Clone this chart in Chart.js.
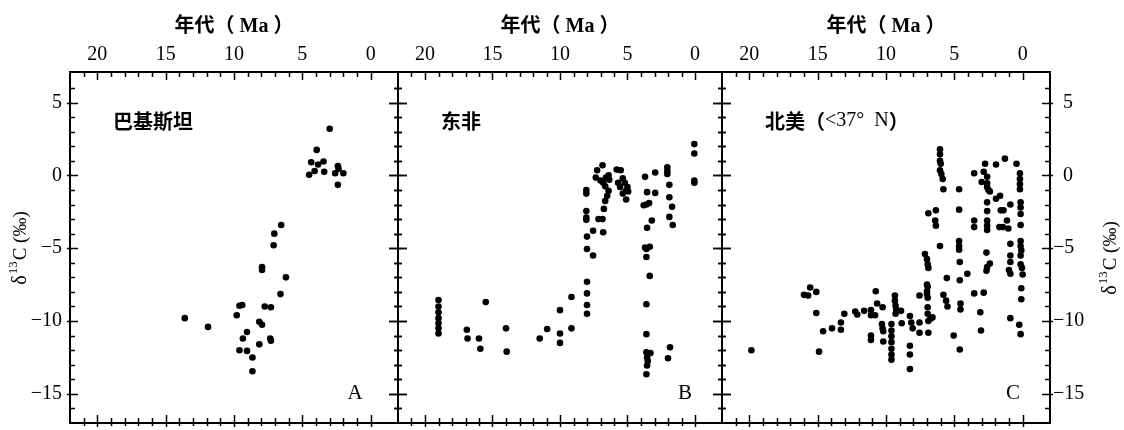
<!DOCTYPE html>
<html>
<head>
<meta charset="utf-8">
<script src="https://cdn.jsdelivr.net/npm/chart.js@4.4.1/dist/chart.umd.min.js"></script>
<style>
  html, body { margin: 0; padding: 0; background: #fff; }
  #wrap { position: relative; width: 1124px; height: 430px; overflow: hidden; }
  canvas { position: absolute; top: 0; }
</style>
</head>
<body>
<div id="wrap">
  <canvas id="pA" width="412" height="430" style="left:0px"></canvas>
  <canvas id="pB" width="348" height="430" style="left:386px"></canvas>
  <canvas id="pC" width="414" height="430" style="left:710px"></canvas>
</div>
<script>
// ---- data (age in Ma, d13C in permil) ----
const xTitle = "年代（ Ma ）";
const xTicks = [20, 15, 10, 5, 0];
const yTicks = [5, 0, -5, -10, -15];
const panelNames = ["巴基斯坦", "东非", "北美（<37°  N）"];
const panelLetters = ["A", "B", "C"];

// A: Pakistan
const ageA = [13.6, 11.9, 9.8, 9.6, 9.4, 9.35, 9.6, 9.05, 9.05, 8.65, 8.65, 8.15, 7.95, 8.15, 7.95, 7.95, 7.75, 7.3, 7.35, 7.3,
  7.1, 7.05, 6.55, 6.6, 6.2, 4.5, 4.35, 4.1, 3.95, 3.85, 3.45, 3.4, 3.0, 2.6, 2.4, 2.4, 2.35, 2.0];
const d13cA = [-9.8, -10.4, -9.6, -8.95, -8.9, -11.2, -12.0, -12.05, -10.75, -12.5, -13.45, -10.05, -10.25, -11.6, -6.3, -6.5, -9.0, -9.05, -11.2, -11.35,
  -4.8, -4.0, -3.4, -8.15, -7.0, 0.05, 0.9, 0.3, 1.75, 0.75, 0.95, 0.25, 3.2, 0.15, 0.65, -0.65, 0.45, 0.15];

// B: East Africa
const ageB = [19.0, 19.0, 19.0, 19.0, 19.0, 19.0, 19.0,
  16.9, 16.85, 16.0, 15.9, 15.5, 14.0, 13.95,
  11.5, 10.95, 10.0, 10.0, 10.0, 9.15, 9.15,
  8.0, 8.0, 8.0, 8.0,
  8.05, 8.05, 8.05, 8.05, 8.05, 8.0, 8.0,
  7.55, 7.55,
  7.25, 6.85, 7.35, 7.0, 6.8, 6.6, 6.4, 6.35, 6.65, 6.4, 6.5, 6.65, 6.75, 6.85, 7.15, 6.8,
  5.8, 5.5, 5.35, 5.7, 5.2, 5.0, 5.55, 5.1, 5.35, 4.95, 5.1,
  3.7, 2.95, 3.55, 2.95, 3.8, 3.4, 3.6, 3.55, 3.2, 3.7, 3.35, 3.6, 3.6, 3.35, 3.6, 3.6, 3.6, 3.3, 3.55, 3.5, 3.55, 3.6,
  2.05, 2.05, 2.05, 1.9, 1.9, 1.7, 1.9, 1.65, 1.85, 2.0,
  0.05, 0.05, 0.05, 0.05];
const d13cB = [-8.55, -9.0, -9.4, -9.8, -10.15, -10.5, -10.85,
  -10.6, -11.2, -11.2, -11.9, -8.7, -10.5, -12.1,
  -11.2, -10.55, -9.25, -10.85, -11.5, -8.35, -10.5,
  -7.3, -8.1, -8.9, -9.5,
  -1.0, -1.25, -2.45, -2.9, -3.05, -4.2, -5.05,
  -3.8, -5.5,
  0.35, 0.7, -0.15, -0.35, -0.5, -0.15, 0.0, -0.3, -0.75, -1.05, -1.4, -1.75, -2.3, -3.0, -3.0, -3.9,
  0.4, 0.35, -0.2, -0.5, -0.5, -0.8, -0.8, -1.05, -1.25, -1.1, -1.65,
  -0.1, 0.2, -1.15, -1.2, -2.05, -1.9, -2.0, -3.6, -3.1, -4.95, -4.9, -5.05, -5.6, -6.9, -8.85, -10.9, -12.15, -12.2, -12.5, -12.75, -13.05, -13.65,
  0.55, 0.3, 0.1, -0.65, -1.5, -2.15, -2.85, -3.4, -11.8, -12.55,
  2.15, 1.5, -0.35, -0.5];

// C: North America (<37 N)
const ageC = [19.85,
  15.55, 15.1, 16.0, 15.7, 15.1, 14.9, 14.6, 13.95, 13.3, 13.3, 13.05, 12.25, 12.1, 11.6,
  10.75, 11.1, 11.1, 10.8, 10.65, 10.25, 11.1, 11.1, 10.2, 10.3, 10.25, 10.2,
  9.35, 9.35, 9.3, 9.25, 9.3,
  9.6, 9.6, 9.6, 9.6, 9.6, 9.6, 9.6,
  8.9, 8.85,
  8.25, 8.15, 8.05, 8.25, 8.25, 8.25,
  7.55, 7.55, 7.55, 6.9,
  7.15, 7.0, 6.95, 6.9,
  7.0, 6.95, 7.0, 7.0, 6.95,
  6.95, 6.95, 6.75, 6.9, 6.6,
  6.9, 6.35, 6.4, 6.35, 6.05,
  6.05, 6.05, 6.05, 6.0, 6.05, 5.95, 5.85, 5.8,
  5.55, 5.8, 5.6, 5.5,
  4.65, 4.65, 4.65, 4.65, 4.65, 4.6, 4.05, 4.6, 4.55, 4.55, 5.05, 4.6,
  3.55, 3.55, 3.55, 3.55, 2.85, 3.1, 3.05,
  2.75, 2.85, 2.6, 3.0, 2.6, 2.6, 2.5, 2.4,
  1.95, 1.3,
  2.6, 2.6, 2.6, 2.6, 2.6, 2.65, 2.4, 2.6, 2.65,
  1.95, 1.65, 1.6, 1.4, 1.7, 1.45,
  0.9, 1.15, 1.05, 0.45,
  0.9, 0.9, 0.9, 1.0, 0.9,
  0.2, 0.2, 0.2, 0.2, 0.15, 0.15, 0.15, 0.15, 0.15, 0.15, 0.1, 0.15, 0.15, 0.05, 0.0, 0.1, 0.1,
  0.9, 0.25, 0.15];
const d13cC = [-12.0,
  -7.7, -8.0, -8.2, -8.25, -9.45, -12.1, -10.7, -10.5, -10.1, -10.6, -9.5, -9.35, -9.55, -9.3,
  -7.95, -9.25, -9.6, -9.6, -8.8, -9.05, -11.0, -11.3, -11.4, -10.2, -10.5, -10.7,
  -8.25, -8.6, -8.95, -9.2, -9.5,
  -10.2, -10.65, -11.05, -11.45, -11.9, -12.3, -12.65,
  -9.3, -10.15,
  -9.65, -10.1, -10.5, -11.7, -12.3, -13.3,
  -10.1, -10.8, -8.25, -10.8,
  -5.4, -5.75, -6.1, -6.35,
  -7.5, -7.65, -7.95, -8.15, -8.4,
  -9.05, -9.5, -9.85, -10.0, -9.75,
  -2.6, -2.4, -3.1, -3.45, -4.85,
  1.8, 1.45, 1.0, 0.8, 0.35, 0.1, -0.25, -0.95,
  -7.05, -8.2, -8.6, -9.0,
  -0.95, -2.35, -4.5, -4.85, -5.1, -5.95, -6.75, -7.2, -8.8, -9.2, -11.0, -11.95,
  0.15, -3.1, -3.55, -8.1, -8.05, -9.4, -10.65,
  0.8, 0.25, -0.1, -0.45, -0.55, -0.8, -1.0, -1.1,
  0.75, 1.15,
  -1.85, -2.45, -3.1, -3.45, -3.75, -5.3, -6.05, -6.3, -6.55,
  -1.6, -1.4, -2.4, -2.4, -3.55, -3.55,
  -2.0, -3.1, -3.65, 0.8,
  -4.7, -5.5, -5.95, -6.5, -6.75,
  0.15, -0.25, -0.6, -0.95, -1.85, -2.2, -2.65, -3.4, -4.5, -4.85, -5.15, -5.5, -6.1, -6.35, -6.8, -7.75, -8.5,
  -9.8, -10.25, -10.9];

const X_MIN = -2, X_MAX = 22;
const Y_MIN = -17, Y_MAX = 7.1;

const SERIF = "'Liberation Serif', 'Times New Roman', serif";
const CJK = "'Noto Sans CJK SC', sans-serif";

function fmt(v) { return v < 0 ? "\u2212" + (-v) : String(v); }

// mixed CJK (bold) / Latin (serif) text, left aligned at x
function drawMixed(ctx, text, x, y, size) {
  let cx = x;
  for (const ch of text) {
    ctx.font = ch.charCodeAt(0) > 0x2e80 ? `bold ${size}px ${CJK}` : `${size}px ${SERIF}`;
    ctx.fillText(ch, cx, y);
    cx += ctx.measureText(ch).width;
  }
}

// rotated "δ13C (‰)" with superscript
function drawYTitle(ctx, cx, cy) {
  const parts = [["δ", 20, 0], ["13", 13, -7], ["C (‰)", 19, 0]];
  ctx.save();
  ctx.translate(cx, cy);
  ctx.rotate(-Math.PI / 2);
  ctx.textBaseline = "middle";
  ctx.textAlign = "left";
  let w = 0;
  for (const [t, s] of parts) { ctx.font = `${s}px ${SERIF}`; w += ctx.measureText(t).width + 1; }
  let x = -w / 2;
  for (const [t, s, dy] of parts) {
    ctx.font = `${s}px ${SERIF}`;
    ctx.fillText(t, x, dy);
    x += ctx.measureText(t).width + 1;
  }
  ctx.restore();
}

// frame with inward / crossing ticks, panel name and letter
const frameTicks = {
  id: "frameTicks",
  afterDatasetsDraw(chart, args, o) {
    const { ctx, chartArea: a, scales: { x, y } } = chart;
    ctx.save();
    ctx.strokeStyle = "#000";
    ctx.fillStyle = "#000";
    ctx.lineWidth = 2;
    ctx.strokeRect(a.left, a.top, a.right - a.left, a.bottom - a.top);

    ctx.lineWidth = 1.5;
    ctx.beginPath();
    for (let v = 0; v <= 21; v++) {
      const px = Math.round(x.getPixelForValue(v)) + 0.5;
      const major = v % 5 === 0;
      ctx.moveTo(px, a.top);
      ctx.lineTo(px, a.top + (major ? 8 : 5));
      ctx.moveTo(px, a.bottom + (major ? 4 : 3));
      ctx.lineTo(px, a.bottom - (major ? 8 : 5));
    }
    for (let v = -16; v <= 6; v++) {
      const py = Math.round(y.getPixelForValue(v)) + 0.5;
      const major = v % 5 === 0;
      [["left", a.left, 1], ["right", a.right, -1]].forEach(([side, ex, dir]) => {
        if (o[side] === "cross") {
          const l = major ? 9 : 4;
          ctx.moveTo(ex - l, py); ctx.lineTo(ex + l, py);
        } else {
          ctx.moveTo(ex - dir * (major ? 3 : 0), py);
          ctx.lineTo(ex + dir * (major ? 8 : 5), py);
        }
      });
    }
    ctx.stroke();

    ctx.textBaseline = "middle";
    ctx.textAlign = "left";
    drawMixed(ctx, o.name, a.left + 43, a.top + 49, 20);

    ctx.textAlign = "center";
    ctx.font = `21px ${SERIF}`;
    ctx.fillText(o.letter, a.right - o.letterDx, a.bottom - 30);

    if (o.yTitle === "left") drawYTitle(ctx, 21, (a.top + a.bottom) / 2);
    if (o.yTitle === "right") drawYTitle(ctx, a.right + 61, (a.top + a.bottom) / 2 + 10);
    ctx.restore();
  }
};

function noPad(s) {
  s.paddingTop = 0; s.paddingBottom = 0; s.paddingLeft = 0; s.paddingRight = 0;
}

function makePanel(id, ages, vals, cfg) {
  const yScale = {
    type: "linear",
    display: cfg.yPos !== null,
    position: cfg.yPos || "left",
    min: Y_MIN, max: Y_MAX,
    afterBuildTicks: s => { s.ticks = yTicks.map(v => ({ value: v })); },
    afterFit: s => { s.width = cfg.yWidth; noPad(s); },
    grid: { display: false, drawTicks: false },
    border: { display: false },
    ticks: {
      color: "#000", padding: cfg.yPad, font: { family: SERIF, size: 20 },
      callback: v => (cfg.yPos === "right" && v >= 0 ? "\u2002" : "") + fmt(v)
    }
  };
  return new Chart(document.getElementById(id), {
    type: "scatter",
    data: {
      datasets: [{
        data: ages.map((x, i) => ({ x, y: vals[i] })),
        pointRadius: 3.3,
        pointHoverRadius: 3.3,
        pointBackgroundColor: "#000",
        pointBorderWidth: 0
      }]
    },
    options: {
      responsive: false,
      animation: false,
      devicePixelRatio: 1,
      events: [],
      layout: { padding: cfg.padding },
      plugins: {
        legend: { display: false },
        tooltip: { enabled: false },
        frameTicks: cfg.frame
      },
      scales: {
        x: {
          type: "linear",
          position: "top",
          reverse: true,
          min: X_MIN, max: X_MAX,
          afterBuildTicks: s => { s.ticks = xTicks.map(v => ({ value: v })); },
          afterFit: s => { s.height = 72; noPad(s); },
          grid: { display: false, drawTicks: false },
          border: { display: false },
          ticks: { color: "#000", padding: 5, maxRotation: 0, autoSkip: false, font: { family: SERIF, size: 20 }, callback: fmt },
          title: {
            display: true, text: xTitle, color: "#000",
            font: { family: SERIF + ", " + CJK, size: 20, weight: "bold" },
            padding: { top: 15, bottom: 0 }
          }
        },
        y: yScale
      }
    },
    plugins: [frameTicks]
  });
}

makePanel("pA", ageA, d13cA, {
  yPos: "left", yWidth: 70, yPad: 8,
  padding: { left: 0, right: 14, top: 0, bottom: 7 },
  frame: { left: "in", right: "cross", name: panelNames[0], letter: panelLetters[0], letterDx: 43, yTitle: "left" }
});
makePanel("pB", ageB, d13cB, {
  yPos: null, yWidth: 0, yPad: 0,
  padding: { left: 12, right: 12, top: 0, bottom: 7 },
  frame: { left: "cross", right: "cross", name: panelNames[1], letter: panelLetters[1], letterDx: 37, yTitle: null }
});
makePanel("pC", ageC, d13cC, {
  yPos: "right", yWidth: 74, yPad: 3,
  padding: { left: 12, right: 0, top: 0, bottom: 7 },
  frame: { left: "cross", right: "in", name: panelNames[2], letter: panelLetters[2], letterDx: 37, yTitle: "right" }
});
</script>
</body>
</html>
